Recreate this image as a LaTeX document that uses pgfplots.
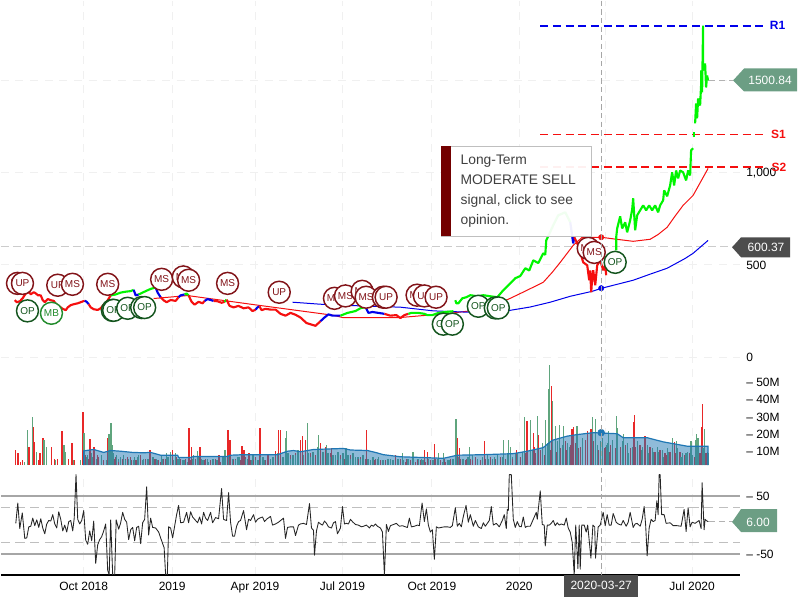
\documentclass[border=0pt]{standalone}
\usepackage{pgfplots}
\usepackage{fontspec}
\setmainfont{Liberation Sans}
\pgfplotsset{compat=1.18}
\definecolor{pgreen}{RGB}{0,245,0}
\definecolor{pred}{RGB}{245,15,15}
\definecolor{pblue}{RGB}{0,0,235}
\definecolor{vred}{RGB}{232,40,40}
\definecolor{vgreen}{RGB}{95,165,125}
\definecolor{vma}{RGB}{31,119,180}
\definecolor{badr}{RGB}{130,20,25}
\definecolor{badg}{RGB}{20,85,30}
\definecolor{badm}{RGB}{35,140,45}
\definecolor{tagg}{RGB}{108,158,132}
\definecolor{tagd}{RGB}{77,77,77}
\pgfplotsset{panel/.style={scale only axis,width=555pt,xmin=0,xmax=740,
  axis line style={draw=none},tick style={draw=none},
  xtick={83,171.5,254.5,342,431.5,519,605,692},xticklabels={},
  xmajorgrids,ymajorgrids,
  major grid style={draw=black!6,dash pattern=on 6pt off 5pt,line width=0.8pt},
  yticklabel pos=right,
  tick label style={font=\fontsize{9}{10}\selectfont,inner sep=0pt},
  yticklabel style={xshift=4.5pt,anchor=west}},
  price/.style={line width=1.6pt,line join=bevel,forget plot},
  level/.style={line width=1.4pt,dash pattern=on 6pt off 3.5pt,forget plot},
  badge/.style={only marks,mark=none,forget plot,nodes near coords,point meta=explicit symbolic,
    nodes near coords align={center},
    visualization depends on={value \thisrow{c} \as \bc},
    every node near coord/.style={circle,draw=\bc,line width=1.1pt,fill=white,text=\bc,minimum size=16.5pt,inner sep=0pt,font=\fontsize{7.5}{8}\selectfont}}}
\begin{document}
\begin{tikzpicture}
\begin{scope}[x=0.75pt,y=-0.75pt]
\path (0,0) rectangle (800,600);
\end{scope}
% ---------- oscillator
\begin{axis}[panel,at={(0pt,-355.5pt)},anchor=north west,height=75.75pt,ymin=-86,ymax=88,
  ytick={-50,50},yticklabels={{--}~-50,{--}~50},ymajorgrids=false,
  xticklabels={Oct 2018,2019,Apr 2019,Jul 2019,Oct 2019,2020,,Jul 2020},
  xticklabel style={yshift=-5pt},
  axis x line*=bottom,x axis line style={draw=black,line width=0.9pt,-}]
\addplot[black!35,line width=1pt,forget plot] coordinates {(0,50) (740,50)};
\addplot[black!35,line width=1pt,forget plot] coordinates {(0,-50) (740,-50)};
\addplot[black!25,line width=0.7pt,dash pattern=on 7pt off 4pt,forget plot] coordinates {(0,30) (740,30)};
\addplot[black!25,line width=0.7pt,dash pattern=on 7pt off 4pt,forget plot] coordinates {(0,-30) (740,-30)};
\addplot[black!30,line width=0.6pt,dash pattern=on 5pt off 3pt,forget plot] coordinates {(708,6) (733,6)};
\addplot[black!85,line width=0.65pt,line join=round,forget plot] coordinates {
(15,3)(17,38)(19,-6)(21.5,21)(24,-23)(26,-22)(28,-3)(30,-2)(32,12)(34,-1)(36,9)(38,-4)(40,11)(42,-5)(44,-15)(46,2)(48,8)(50,7)(52,18)(54,2)(56,-5)(58,23)(60,10)(62,-10)(64,0)(66,-12)(68,6)(70,8)(72,-10)(73.5,12)(75.3,87)(77,10)(79,2)(81,8)(83,25)(85,-26)(87,-33)(89,-10)(91,-27)(93,7)(95,-66)(97,-34)(99,-25)(101,-20)(103,-10)(105,2)(107,-78)(108.5,-86)(110,9)(112,-86)(114,-86)(115.5,9)(118,-7)(120,4)(122,22)(124,10)(126,5)(128,-25)(130,-8)(132,-4)(134,-27)(136,-4)(138,-2)(140,-32)(142,4)(144,10)(146,66)(148,-17)(150,12)(152,-4)(155,-5)(158,-12)(160,-22)(162,-32)(163.5,-39)(165,-86)(166.7,-86)(168,-3)(170,-5)(172,-22)(174,-2)(176,18)(178,34)(180,4)(183,5)(186,22)(188,4)(190,23)(192,14)(195,8)(197,4)(199,14)(201,2)(203,22)(205,12)(207,8)(210,22)(212,4)(215,13)(218,11)(221,63)(223,10)(224,9)(226,8)(228,56)(230,5)(232,-19)(234,-19)(236,-2)(238,6)(240,8)(243,25)(246,-8)(248,10)(250,8)(253,18)(255,5)(257,10)(259,12)(262,14)(264,6)(266,10)(270,15)(272,0)(275,2)(278,5)(283,12)(285,-23)(287,-4)(290,-3)(293,-3)(295,-18)(298,0)(300,2)(303,3)(306,1)(309,37)(311,-5)(313,-9)(314,-52)(316,-10)(318,5)(320,2)(322,0)(324,7)(326,3)(328,-3)(331,-5)(333,4)(335,6)(337,-15)(340,-5)(342,32)(344,2)(346,3)(348,2)(350,10)(352,6)(355,1)(358,0)(361,-3)(363,-2)(366,0)(369,-5)(371,0)(373,-2)(375,2)(377,-2)(380,-5)(382,-12)(384,-86)(386,1)(388,-11)(390,-1)(393,1)(396,3)(399,-2)(402,-1)(405,-3)(407,-4)(409,12)(411,-3)(414,-2)(417,0)(419,-1)(421.7,38)(424,6)(426,28)(428,0)(430,-12)(432,-8)(434,-59)(436,-3)(438,-5)(441,-4)(444,-3)(447,-3)(450,-4)(452,-1)(455,30)(457,-2)(459,3)(461,-3)(463,15)(465.7,34)(468,5)(470,18)(473,-2)(475,8)(478,-3)(481,-6)(483,4)(485,-2)(487,3)(489,8)(491,32)(493,0)(496,3)(499,-3)(502,8)(504,18)(506,-6)(507,27)(508,25)(509,87)(511,87)(513,10)(515,-4)(517,6)(519,-2)(521,-3)(523,14)(525,-4)(527,-2)(530,-2)(533,10)(536,22)(537,10)(540,59)(542,1)(544,0)(545,-36)(547,0)(549,0)(551,3)(553,8)(555,-1)(557,4)(559,0)(561,2)(564,0)(566,12)(568,-5)(570,-12)(572,-30)(574,-86)(575.5,0)(577.7,-75)(579,0)(580,-76)(581.5,0)(584,0)(586,-12)(587.5,0)(590.7,-57)(592.7,0)(594.5,-3)(595.3,-57)(598,-3)(600,0)(603,22)(605,-1)(607,18)(609,0)(611,0)(613,20)(616,5)(618,2)(621,0)(623,8)(626,-2)(628,5)(630,22)(633,-4)(635,2)(637,3)(640,-2)(642,10)(644,32)(645.5,0)(647,-53)(649,-5)(651,10)(653,6)(655,8)(656.7,42)(658,18)(659,87)(660,87)(661.5,18)(664,18)(666,3)(670,4)(673,-1)(677,-1)(681,-2)(684,27)(686,-11)(688,30)(690,-3)(692,5)(695,3)(699,8)(701,-6)(702,73)(704,-8)(705,10)(706,8)(708,6)};
\end{axis}
% ---------- volume
\begin{axis}[panel,at={(0pt,-268.5pt)},anchor=north west,height=80.25pt,ymin=2.3,ymax=64,
  ytick={10,20,30,40,50},yticklabels={{--}~10M,{--}~20M,{--}~30M,{--}~40M,{--}~50M},
  ymajorgrids=false]
% filler bars, the ordinary days
\addplot[ycomb,vgreen,line width=1pt,forget plot] coordinates {
(85.5,7)(90.5,9)(95.5,6)(100.5,8)(105.5,5)(112.5,9)(117.5,6)(122.5,8)(127.5,6)(132.5,5)(137.5,7)(142.5,5)(147.5,6)(152.5,7)(157.5,5)(162.5,6)(167.5,7)(172.5,5)(177.5,6)(182.5,5)(187.5,4)(192.5,6)(197.5,7)(202.5,5)(207.5,4)(212.5,6)(217.5,5)(222.5,7)(227.5,5)(232.5,6)(237.5,7)(242.5,5)(247.5,6)(252.5,8)(257.5,5)(262.5,7)(267.5,5)(272.5,7)(277.5,9)(282.5,7)(287.5,9)(292.5,8)(297.5,11)(302.5,8)(307.5,9)(312.5,10)(317.5,9)(322.5,10)(327.5,9)(332.5,8)(337.5,10)(342.5,9)(347.5,8)(352.5,9)(357.5,7)(362.5,8)(367.5,6)(372.5,7)(377.5,6)(382.5,5)(387.5,6)(392.5,5)(397.5,6)(402.5,5)(407.5,6)(412.5,5)(417.5,6)(422.5,5)(427.5,6)(432.5,5)(437.5,6)(442.5,4)(447.5,5)(452.5,6)(457.5,7)(462.5,6)(467.5,7)(472.5,8)(477.5,6)(482.5,7)(487.5,8)(492.5,6)(497.5,8)(502.5,7)(507.5,9)(512.5,7)(517.5,9)(522.5,10)(527.5,12)(532.5,11)(537.5,13)(542.5,12)(547.5,15)(552.5,14)(557.5,16)(562.5,14)(567.5,15)(572.5,17)(577.5,14)(582.5,18)(587.5,15)(592.5,16)(597.5,14)(602.5,18)(607.5,15)(612.5,17)(617.5,15)(622.5,16)(627.5,15)(632.5,13)(637.5,16)(642.5,13)(647.5,14)(652.5,12)(657.5,13)(662.5,11)(667.5,12)(672.5,10)(677.5,12)(682.5,9)(687.5,10)(692.5,8)(697.5,10)(702.5,9)(707.5,10)};
\addplot[ycomb,vred,line width=1pt,forget plot] coordinates {
(88,6)(93,5)(98,7)(103,5)(108,8)(115,7)(120,5)(125,6)(130,7)(135,5)(140,8)(145,6)(150,5)(155,6)(160,4)(165,6)(170,5)(175,7)(180,5)(185,6)(190,5)(195,6)(200,4)(205,6)(210,5)(215,6)(220,4)(225,6)(230,5)(235,6)(240,5)(245,7)(250,5)(255,7)(260,6)(265,5)(270,6)(275,7)(280,6)(285,7)(290,8)(295,9)(300,7)(305,8)(310,9)(315,8)(320,10)(325,8)(330,9)(335,7)(340,8)(345,7)(350,8)(355,6)(360,7)(365,6)(370,5)(375,6)(380,5)(385,5)(390,6)(395,5)(400,6)(405,4)(410,5)(415,4)(420,5)(425,4)(430,5)(435,6)(440,5)(445,4)(450,6)(455,5)(460,6)(465,5)(470,6)(475,7)(480,5)(485,6)(490,7)(495,6)(500,7)(505,6)(510,7)(515,8)(520,7)(525,9)(530,10)(535,9)(540,11)(545,12)(550,11)(555,13)(560,12)(565,16)(570,14)(575,15)(580,13)(585,17)(590,15)(595,14)(600,15)(605,13)(610,14)(615,12)(620,13)(625,14)(630,12)(635,13)(640,14)(645,12)(650,13)(655,10)(660,11)(665,9)(670,10)(675,9)(680,10)(685,8)(690,9)(695,7)(700,9)(705,8)};
% red bars
\addplot[ycomb,vred,line width=1pt,forget plot] coordinates {
(15,11)(17.3,9)(20,4)(22,5)(28.3,13)(32.3,24)(33.3,15.6)(38,5)(39.3,9)(42.3,18)(46,5)(50.6,13)(54,6)(57,6)(61.3,22)(65,4)(68,6)(71.3,15)(74,5)(82.3,33)(85,8)(89.3,17.5)(93.3,12.5)(97,8)(106.7,18)(110,6)(114,6)(118,4)(122,6)(127,7)(131,5)(136,5)(140,7)(149.3,11)(154,6)(158,5)(163,6)(171.7,11)(176,7)(180,6)(188.3,23.8)(191,12.5)(199.3,12.5)(204,5)(210,5)(218.3,8)(227.3,22.8)(229.3,16.5)(233,5)(241.3,13.5)(243.3,11)(248.3,9)(253,5)(259.3,23.5)(266.7,8)(268.3,8)(275,10.5)(278.3,22.5)(280.3,22.5)(286,5)(300,16.5)(302.3,19)(305,16.5)(320,15)(325,13)(330.7,12)(337,5)(344,6)(350,6)(358,6)(366.3,22.3)(374,5)(380,5)(395,8)(406,6)(413.3,6)(417,5)(424.3,11)(427.3,10)(434.3,14.7)(444.3,6)(457.3,18)(459.3,12)(466,6)(472,5)(484.3,16.4)(490,6)(500,5)(512,6)(516,11)(520,6)(526.7,27.8)(533.3,21)(534.3,13)(538.3,19.5)(544,8)(551.3,47.9)(556,10)(566,11)(571.7,23)(573.3,24)(578,12)(585,14)(587.3,22)(590.7,23)(593,16)(598,11)(604,12)(609,10)(616,8)(623,11)(633.3,27)(634.3,31)(640,10)(645,19)(650,8)(655,7)(660,8)(666,8)(674.3,15.5)(680,7)(685,7)(690,6)(696,9)(701.7,24)(702.3,37.7)(706,9)};
% green bars
\addplot[ycomb,vgreen,line width=1pt,forget plot] coordinates {
(24,4)(26.7,22.4)(31.7,30)(36,10)(43.3,17)(45.7,13)(55,5)(63.3,14)(65,10)(73,5)(80,5)(83.3,21)(87,8)(92,7)(96,5)(101,6)(108.3,20)(110.3,26.7)(111.7,14)(116,8)(120,7)(125,5)(130,5)(134,7)(138,8)(143,6)(147,5)(152,7)(156,6)(161,8)(166,9)(170,10)(175,9)(179,7)(184,5)(193,8)(196.7,10.3)(201,6)(207,6)(212,5)(216,5)(222,6)(224.3,11)(228,8)(235,5)(239,7)(245,6)(251,5)(255,5)(260,7)(264,5)(270,6)(283,6)(286,22)(285,18)(290,6)(295,8)(306.7,26.3)(310,7)(316.7,13)(318.3,19.5)(322,9)(325.7,14)(330,7)(335,8)(340,6)(345.7,12.3)(350,6)(355,7)(360,6)(370,5)(378,7)(383,5)(390,6)(402.3,9.5)(412.7,10)(421,6)(428,6)(438.3,9.4)(443.3,9.5)(449,5)(455.7,29)(456.3,29)(462,6)(469.3,13)(477,6)(482,6)(488,6)(494,7)(503.3,17)(508.3,17)(510,13)(515,9)(524.3,30)(530,28.4)(537.3,30.9)(542,15)(545.3,28.4)(548.3,46)(549.3,59.8)(552.3,39.5)(555,24.6)(559.3,25.5)(563.3,25)(569,13)(576.7,24.8)(582,15)(592.3,30)(595,29)(600,16)(606,14)(608.3,22)(612,13)(616,30.9)(617.3,23.8)(623.3,20)(628,9)(637,10)(642,11)(648,9)(653,10)(658,10)(663,7)(668,10)(672.3,17.7)(676.7,16)(681,7)(686,9)(691,16)(695.7,16.5)(696.7,20)(698,18)(703,12)(704.3,23)(708.3,9)};
% moving average of the volume
\addplot[line width=0.9pt,draw=vma,fill=vma,fill opacity=0.5,draw opacity=1,forget plot] coordinates {
(83,2.3)(83,10.5)(93,11.3)(103,9.6)(110,10.7)(120,10.3)(132,9.6)(143,9.4)(150,9.6)(160,8)(177,8)(178,6.7)(190,6.7)(193,7.3)(227,7.3)(230,8)(243,8.3)(277,8.3)(287,10.3)(293,10.7)(300,10)(313,11.3)(343,11.9)(350,11)(367,10.7)(375,9.6)(383,8.3)(400,7.1)(420,6.7)(443,6.2)(457,8)(483,8.3)(513,8.9)(527,10.3)(543,12.4)(552,16.6)(567,19)(577,19.9)(593,21)(617,20.4)(623,18.1)(647,18.1)(663,15.7)(687,13.2)(708,13.2)(708,2.3)};
\addplot[only marks,mark=*,mark size=2.6pt,draw=vma,fill=vma,forget plot] coordinates {(601,21)};
\end{axis}
% ---------- price
\begin{axis}[panel,at={(0pt,0pt)},anchor=north west,height=267.75pt,ymin=0,ymax=1933,clip=false,
  ytick={0,500,1000,1500},yticklabels={0,500,{1,000},}]
\addplot[black!20,line width=1.2pt,dash pattern=on 6pt off 3pt,forget plot] coordinates {(0,600.37) (733,600.37)};
\addplot[black!30,line width=0.6pt,dash pattern=on 5pt off 3pt,forget plot] coordinates {(708,1500.84) (733,1500.84)};
% resistance and support
\addplot[pblue,level] coordinates {(540,1797) (763,1797)};
\addplot[pred,level] coordinates {(540,1207) (763,1207)};
\addplot[pred,level] coordinates {(540,1029) (763,1029)};
% moving averages
\addplot[pred,line width=0.75pt,forget plot] coordinates {(153,318)(187,334)(253,285)(333,227)(342,215)(400,215)(450,238)(467,249)(490,271)(510,319)(525,358)(543,406)(552,460)(560,514)(573,606)(582,650)(601,650)(615,640)(633,628)(650,639)(658,665)(667,704)(675,765)(683,823)(693,877)(700,945)(708,1023)};
\addplot[pblue,line width=0.75pt,forget plot] coordinates {(292,298)(320,287)(360,278)(400,271)(433,251)(467,244)(510,254)(530,272)(550,298)(570,330)(592,357)(601.7,374)(633,417)(650,450)(667,482)(685,535)(693,563)(708,633)};
% price segments
\addplot[pred,price] coordinates {(14,309)(16,298)(19,303)(22,320)(25,346)(28,352)(30,341)(33,352)(35,346)(37,336)(40,335)(42,309)(44,298)(47,315)(50,309)(53,305)(55,290)(58,278)(62,262)(65,255)(67,270)(70,282)(73,287)(77,292)(80,298)(84,306)};
\addplot[pblue,price] coordinates {(84,306)(86,300)(88,287)};
\addplot[pred,price] coordinates {(88,287)(90,270)(93,260)(97,256)(100,265)(103,285)(106,300)(110,335)};
\addplot[pgreen,price] coordinates {(110,335)(115,340)(120,350)(125,355)(130,358)(133,365)};
\addplot[pblue,price] coordinates {(133,365)(135,335)(138,340)};
\addplot[pgreen,price] coordinates {(138,340)(140,345)(145,358)(150,370)(155,378)};
\addplot[pblue,price] coordinates {(155,378)(157,350)(160,325)};
\addplot[pred,price] coordinates {(160,325)(163,308)(166,298)(170,310)(175,305)(178,325)};
\addplot[pblue,price] coordinates {(178,325)(180,335)(184,340)};
\addplot[pgreen,price] coordinates {(184,340)(186,345)(188,335)};
\addplot[pred,price] coordinates {(188,335)(191,300)(194,285)(198,300)(202,292)(204,305)};
\addplot[pblue,price] coordinates {(204,305)(207,315)(213,305)};
\addplot[pred,price] coordinates {(213,305)(217,303)(221,295)(224,300)};
\addplot[pgreen,price] coordinates {(224,300)(226,312)};
\addplot[pred,price] coordinates {(226,312)(229,278)(233,270)(238,278)(243,265)(248,270)(252,250)(255,258)};
\addplot[pblue,price] coordinates {(255,258)(257,270)(259,275)};
\addplot[pred,price] coordinates {(259,275)(261,255)(265,262)(270,258)(275,258)(280,235)(285,225)(290,240)(295,230)(300,215)(306,185)(315,170)(320,195)};
\addplot[pblue,price] coordinates {(320,195)(324,215)(328,232)(332,225)(340,225)};
\addplot[pgreen,price] coordinates {(340,225)(347,240)(355,250)(360,265)(365,272)};
\addplot[pblue,price] coordinates {(365,272)(368,240)(372,245)(378,240)(384,235)};
\addplot[pred,price] coordinates {(384,235)(390,225)(396,228)(400,212)(404,228)(408,235)};
\addplot[pgreen,price] coordinates {(408,235)(411,240)(418,240)(424,235)(427,228)(432,228)(438,240)(445,245)(453,249)};
\addplot[pgreen,price] coordinates {(455,309)(456,292)(458,292)(462,319)(466,325)(470,336)(477,330)(483,336)(490,330)(497,325)(503,363)(509,395)(515,428)(520,440)(525,482)(529,470)(533,525)(538,510)(543,563)(545,555)(546,633)(553,715)(558,769)(565,785)(570,731)};
\addplot[pblue,price] coordinates {(570,731)(573,617)(574,650)};
\addplot[pred,price] coordinates {(574,650)(578,606)(583,514)(587,498)(589,417)(590,470)(591,352)(592,430)(593,471)(595,390)(597,498)(600,525)(603,471)(605,500)(606,444)};
\addplot[pgreen,price] coordinates {(616,579)(616,650)(617,698)(620,763)(622,698)(625,731)(627,677)(630,742)(632,800)(633,861)(635,688)(637,769)(640,796)(643,823)(646,796)(649,823)(652,796)(655,823)(658,785)(660,823)(663,850)(664,904)(667,872)(670,931)(672,1002)(674,931)(676,1012)(678,969)(680,1012)(683,1002)(686,958)(688,1012)(690,985)(691,1121)(693,1132)};
\addplot[pgreen,price] coordinates {(694,1191)(694,1218)};
\addplot[pgreen,price] coordinates {(695,1267)(696,1375)(697,1294)(698,1402)(700,1364)(701,1473)(701,1554)(702,1435)(703,1797)(703,1570)(704,1554)(705,1592)(706,1462)(707,1527)(708,1500)};
\addplot[only marks,mark=*,mark size=2pt,pred,forget plot] coordinates {(601,650)};
\addplot[only marks,mark=*,mark size=2pt,pblue,forget plot] coordinates {(601,374)};
% signal badges
\addplot[badge] table[meta=t] {
x y t c
16.7 400 UP badr
21.7 400 UP badr
57 390 UP badr
71.7 395 MS badr
26.7 251 OP badg
50.7 238 MB badm
107 395 MS badr
111.7 254 OP badg
113 254 OP badg
127 265 OP badg
141 269 OP badg
144 269 OP badg
161 422 MS badr
182.7 435 MS badr
188 417 MS badr
227 400 MS badr
278.7 352 UP badr
334 319 MS badr
345 332 MS badr
361.7 357 MS badr
365.7 325 MS badr
383 325 UP badr
385.7 325 UP badr
416.7 336 MS badr
424 332 UP badr
435.7 325 UP badr
443 179 OP badg
452 179 OP badg
478 276 OP badg
495 267 OP badg
498 267 OP badg
588 590 MS badr
594 568 MS badr
615 514 OP badg
};
\end{axis}
% ---------- overlays, in pixels from the top left corner
\begin{scope}[x=0.75pt,y=-0.75pt,font=\fontsize{9}{10}\selectfont]
\draw[black!35,line width=0.7pt,dash pattern=on 4pt off 2.5pt] (601,0) -- (601,575);
\node[text=pblue,font=\fontsize{9}{10}\selectfont\bfseries] at (777.5,25) {R1};
\node[text=pred,font=\fontsize{9}{10}\selectfont\bfseries] at (778.5,134) {S1};
\node[text=pred,font=\fontsize{9}{10}\selectfont\bfseries] at (779,167) {S2};
\fill[tagg] (733,80)--(744,68)--(797,68)--(797,91)--(744,91)--cycle;
\node[text=white] at (770,80) {1500.84};
\fill[tagd] (732,247)--(741,237)--(790,237)--(790,257)--(741,257)--cycle;
\node[text=white] at (766,247) {600.37};
\fill[tagg] (732,522)--(741,509)--(777,509)--(777,532)--(741,532)--cycle;
\node[text=white] at (758,522) {6.00};
\fill[tagd] (564,575) rectangle (638,597);
\node[text=white] at (601,585) {2020-03-27};
\fill[white,fill opacity=0.94,draw=black!25,line width=0.6pt] (441,146) rectangle (591,236);
\fill[red!45!black] (441,146) rectangle (451,236);
\node[anchor=west,text=black!75,font=\fontsize{10.4}{15}\selectfont,align=left,inner sep=0pt] at (460,191) {Long-Term\\MODERATE SELL\\signal, click to see\\opinion.};
\end{scope}
\end{tikzpicture}
\end{document}
